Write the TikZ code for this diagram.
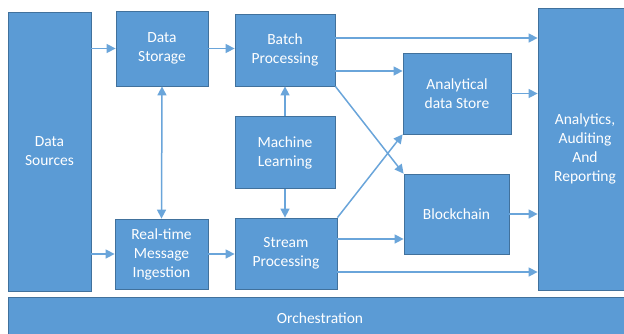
\documentclass[tikz,border=0pt]{standalone}
\usepackage{fontspec}
\setmainfont{Carlito}
\usetikzlibrary{positioning,arrows.meta}

\definecolor{boxfill}{HTML}{5B9BD5}
\definecolor{boxline}{HTML}{41719C}
\definecolor{arrline}{HTML}{6AA5DA}

\begin{document}
\begin{tikzpicture}[x=1pt,y=-1pt,
  blk/.style={draw=boxline, line width=0.8pt, fill=boxfill, text=white,
    align=center, inner sep=0pt, font=\fontsize{15.5}{19}\selectfont},
  arr/.style={draw=arrline, line width=1.5pt, -{Triangle[length=9pt,width=9pt]}},
  arr2/.style={arr, {Triangle[length=9pt,width=9pt]}-{Triangle[length=9pt,width=9pt]}}]

\useasboundingbox (0,0) rectangle (624,333);
\clip (0,0) rectangle (624,333);

% ======================================
% SOURCES AND INGESTION
% ======================================
\node[blk, minimum width=83pt, minimum height=279pt] (ds) at (49.5,151.5) {Data\\Sources};
\node[blk, minimum width=92pt, minimum height=75pt] (st) at (162,48.5) {Data\\Storage};
\node[blk, minimum width=93pt, minimum height=70pt] (rt) at (161.5,254) {Real-time\\Message\\Ingestion};

\draw[arr] (ds.east |- st.west) -- (st.west);
\draw[arr] (ds.east |- rt.west) -- (rt.west);
\draw[arr2] (st.south) -- (rt.north);

% ======================================
% PROCESSING
% ======================================
\node[blk, minimum width=100pt, minimum height=72pt] (bp) at (285,50) {Batch\\Processing};
\node[blk, minimum width=100pt, minimum height=72pt, below=30pt of bp] (ml) {Machine\\Learning};
\node[blk, minimum width=102pt, minimum height=71pt] (sp) at (286,253.5) {Stream\\Processing};

\draw[arr] (st.east) -- (bp.west |- st.east);
\draw[arr] (rt.east) -- (sp.west |- rt.east);
\draw[arr] (ml.north) -- (bp.south);
\draw[arr] (ml.south) -- (sp.north -| ml.south);

% ======================================
% STORES
% ======================================
\node[blk, minimum width=108pt, minimum height=81pt] (as) at (457,93.5) {Analytical\\data Store};
\node[blk, minimum width=105pt, minimum height=80pt] (bc) at (456.5,214) {Blockchain};

\draw[arr] ([yshift=-21pt]bp.east) -- ([yshift=-21pt]bp.east -| as.west);
\draw[arr] (bp.south east) -- (bc.north west);
\draw[arr] (sp.north east) -- (as.south west);
\draw[arr] ([yshift=14.5pt]sp.east) -- ([yshift=14.5pt]sp.east -| bc.west);

% ======================================
% REPORTING AND ORCHESTRATION
% ======================================
\node[blk, minimum width=94pt, minimum height=282pt] (an) at (585,149) {Analytics,\\Auditing\\And\\Reporting};

\draw[arr] ([yshift=12pt]bp.east) -- ([yshift=12pt]bp.east -| an.west);
\draw[arr] (as.east) -- (an.west |- as.east);
\draw[arr] (bc.east) -- (an.west |- bc.east);
\draw[arr] ([yshift=-18.5pt]sp.east) -- ([yshift=-18.5pt]sp.east -| an.west);

\node[blk, minimum width=624pt, minimum height=43pt] (orch) at (320,318.5) {Orchestration};

\end{tikzpicture}
\end{document}
